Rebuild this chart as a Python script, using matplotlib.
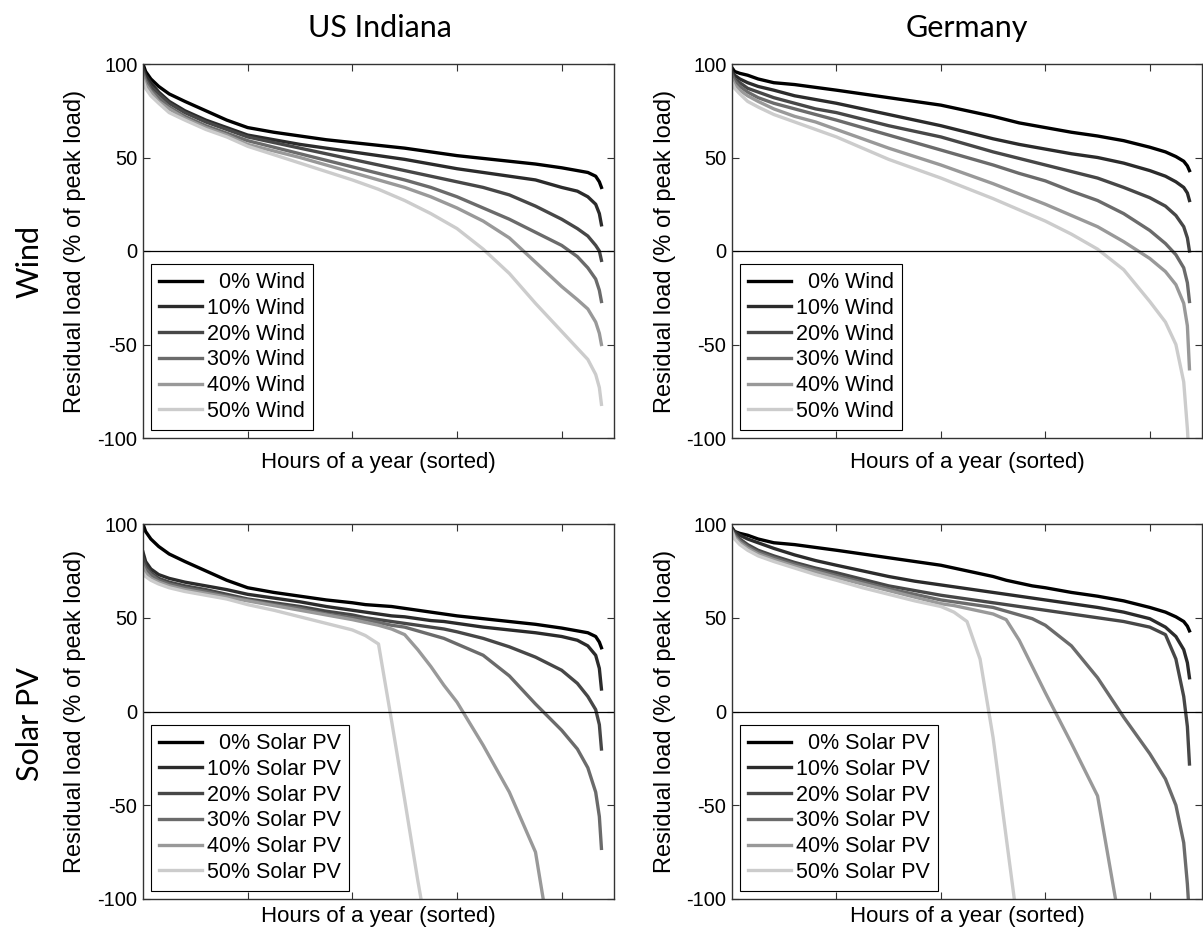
import matplotlib.pyplot as plt
import numpy as np

nan = np.nan

hours_wind = [0, 50, 150, 300, 500, 800, 1200, 1600, 2000, 2500, 3000, 3500, 4000,
              4500, 5000, 5500, 6000, 6500, 7000, 7500, 8000, 8300, 8500, 8650, 8720, 8760]
hours_pv = [0, 50, 150, 300, 500, 800, 1200, 1600, 2000, 2500, 3000, 3500, 4000, 4250,
            4500, 4750, 5000, 5250, 5500, 5750, 6000, 6500, 7000, 7500, 8000, 8300,
            8500, 8650, 8720, 8760]

shares = ['  0%', '10%', '20%', '30%', '40%', '50%']
grays = ['#000000', '#2b2b2b', '#474747', '#6b6b6b', '#999999', '#cccccc']

# residual load, % of peak load
indiana_wind = [
    [100, 96, 92, 88, 84, 80, 75, 70, 66, 63.5, 61.5, 59.5, 58, 56.5, 55, 53, 51, 49.5, 48, 46.5, 44.5, 43, 42, 40, 37, 34],
    [98, 94, 90, 85, 80, 75, 70, 66, 62, 59.5, 57, 55, 53, 51, 49, 46.5, 44, 42, 40, 38, 34, 32, 29, 25, 20, 14],
    [96, 92, 88, 84, 79, 74, 69, 65, 61, 58, 55, 52, 49, 46, 43, 40, 37, 34, 30, 24, 17, 12, 8, 3, 0, -5],
    [95, 91, 86, 82, 77, 72, 67, 63, 59, 55.5, 52, 48.5, 45, 41.5, 38, 34, 29, 23, 17, 10, 3, -3, -9, -15, -21, -27],
    [93, 89, 85, 80, 76, 71, 66, 62, 57, 53.5, 50, 46, 42, 38, 34, 29, 23, 16, 7, -6, -19, -26, -31, -38, -44, -50],
    [91, 87, 83, 79, 74, 70, 65, 61, 56, 51.5, 47, 42.5, 38, 33, 27, 20, 12, 1, -12, -28, -43, -52, -58, -66, -73, -82],
]
germany_wind = [
    [98, 96, 95, 94, 92, 90, 89, 87.5, 86, 84, 82, 80, 78, 75, 72, 68.5, 66, 63.5, 61.5, 59, 55.5, 53, 50.5, 48, 45.5, 43],
    [96, 94, 92, 90, 88, 86, 83, 81, 79, 76, 73, 70, 67, 63.5, 60, 57, 54.5, 52, 50, 47, 43, 40, 37, 34, 31, 27],
    [95, 92, 90, 87, 85, 82, 79, 76, 74, 70.5, 67, 64, 61, 57, 53, 49.5, 46, 42.5, 39, 34, 28.5, 24, 19, 13, 7, 0],
    [94, 91, 88, 85, 82, 79, 76, 73, 70, 66, 62, 58, 54, 50, 46, 41.5, 37.5, 32, 27, 20, 11, 4, -2, -9, -17, -27],
    [92, 89, 86, 83, 80, 76, 72, 69, 65, 60, 55, 50.5, 46, 41, 36, 30.5, 25, 19, 13, 5, -4, -11, -18, -28, -40, -63],
    [90, 87, 84, 80, 77, 73, 69, 65, 61, 55, 49, 44, 39, 33.5, 28, 22, 16, 9, 1, -10, -27, -38, -50, -70, -95, -115],
]
indiana_pv = [
    [100, 96, 92, 88, 84, 80, 75, 70, 66, 63.5, 61.5, 59.5, 58, 57, 56.5, 56, 55, 54, 53, 52, 51, 49.5, 48, 46.5, 44.5, 43, 42, 40, 37, 34],
    [85, 80, 76, 73, 71, 69, 67, 65, 62.5, 60.5, 58.5, 56, 54, 53, 52, 51, 50.5, 49.5, 48.5, 48, 47, 45, 43.5, 42, 40, 38, 35, 30, 23, 12],
    [82, 78, 74, 71, 69, 67, 65, 62.5, 60, 58, 56, 53.5, 51.5, 50, 49, 48, 47, 46, 45, 44, 42.5, 39, 34.5, 29, 22, 15, 8, 1, -7, -20],
    [79, 76, 73, 70, 68, 66, 64, 61.5, 59.5, 57, 55, 52, 50, 49, 47.5, 46, 45, 43, 41, 39, 36, 30, 19, 4, -10, -20, -30, -43, -56, -73],
    [77, 74, 71, 69, 67, 65, 63, 61, 59, 56.5, 54, 51.5, 49, 47.5, 46, 44, 41, 33, 24, 14, 5, -18, -43, -75, -160, nan, nan, nan, nan, nan],
    [74, 72, 70, 68, 66, 64, 62, 60, 57, 54, 50.5, 47, 43.5, 40.5, 36, -5, -47, -90, -130, nan, nan, nan, nan, nan, nan, nan, nan, nan, nan, nan],
]
germany_pv = [
    [98, 96, 95, 94, 92, 90, 89, 87.5, 86, 84, 82, 80, 78, 76.5, 75, 73.5, 72, 70, 68.5, 67, 66, 63.5, 61.5, 59, 55.5, 53, 50.5, 48, 45.5, 43],
    [97, 96, 94, 92, 90, 87, 83.5, 80.5, 78, 75, 72, 69.5, 67.5, 66.5, 65.5, 64.5, 63.5, 62.5, 61.5, 60.5, 59.5, 57.5, 55.5, 53, 49.5, 45, 40, 33, 26, 18],
    [97, 95, 92, 89, 86, 83, 79.5, 76.5, 74, 70.5, 67, 64.5, 62, 61, 60, 59, 58, 57, 56, 55, 54, 52, 50, 48, 45, 41, 28, 8, -8, -28],
    [96, 94, 91, 88, 85, 82, 78.5, 75.5, 72.5, 69, 65.5, 62.5, 59.5, 58.5, 57.5, 56.5, 55.5, 53.5, 51.5, 49.5, 46, 35, 18, -3, -22.5, -36, -50, -70, -92, -110],
    [96, 93, 90, 87, 84, 81, 77.5, 74.5, 71.5, 68, 64.5, 61, 57.5, 56.5, 55, 53.5, 52, 49, 38, 24, 10, -17, -45, -125, nan, nan, nan, nan, nan, nan],
    [96, 92, 89, 86, 83, 80, 76.5, 73, 70, 66, 62.5, 59, 56, 53, 48, 28, -14, -67, -120, nan, nan, nan, nan, nan, nan, nan, nan, nan, nan, nan],
]

W, H = 1203, 931
plt.rcParams['font.family'] = ['Liberation Sans', 'DejaVu Sans']
plt.rcParams['axes.unicode_minus'] = False
fig = plt.figure(figsize=(W / 100, H / 100), dpi=100)

panels = [
    ([143, 64, 614, 438], hours_wind, indiana_wind, 'Wind', -0.037),
    ([732, 64, 1202, 438], hours_wind, germany_wind, 'Wind', -0.037),
    ([143, 524, 614, 899], hours_pv, indiana_pv, 'Solar PV', -0.018),
    ([732, 524, 1202, 899], hours_pv, germany_pv, 'Solar PV', -0.018),
]

for box, hrs, series, tech, xlab_y in panels:
    x0, y0, x1, y1 = box
    ax = fig.add_axes([x0 / W, (H - y1) / H, (x1 - x0) / W, (y1 - y0) / H])
    for share, col, vals in zip(shares, grays, series):
        ax.plot(hrs, vals, color=col, lw=2.4, label=share + ' ' + tech)
    ax.axhline(0, color='black', lw=0.9)
    ax.set_xlim(0, 9000)
    ax.set_ylim(-100, 100)
    ax.set_xticks([2000, 4000, 6000, 8000])
    ax.set_xticklabels([])
    ax.set_yticks([-100, -50, 0, 50, 100])
    ax.tick_params(direction='in', top=True, right=True, length=5, width=0.8,
                   labelsize=14.5, pad=4, color='#333333')
    for s in ax.spines.values():
        s.set_color('#333333')
        s.set_linewidth(1.0)
    ax.set_xlabel('Hours of a year (sorted)', fontsize=16)
    ax.xaxis.set_label_coords(0.5, xlab_y)
    ax.xaxis.label.set_va('top')
    ax.set_ylabel('Residual load (% of peak load)', fontsize=17)
    ax.yaxis.set_label_coords(-0.12, 0.5)
    leg = ax.legend(loc='lower left', fontsize=15.5, frameon=True, fancybox=False,
                    edgecolor='black', framealpha=1, handlelength=2.0,
                    handletextpad=0.2, labelspacing=0.22, borderaxespad=0.35,
                    borderpad=0.4)
    leg.get_frame().set_linewidth(0.8)

head = dict(family=['Lato', 'DejaVu Sans'], fontsize=22, ha='center', va='center')
fig.text(380 / W, 1 - 28 / H, 'US Indiana', **head)
fig.text(967 / W, 1 - 28 / H, 'Germany', **head)
fig.text(30 / W, 1 - 261 / H, 'Wind', rotation=90, **head)
fig.text(30 / W, 1 - 724 / H, 'Solar PV', rotation=90, **head)

fig.savefig('out.png', dpi=100)
